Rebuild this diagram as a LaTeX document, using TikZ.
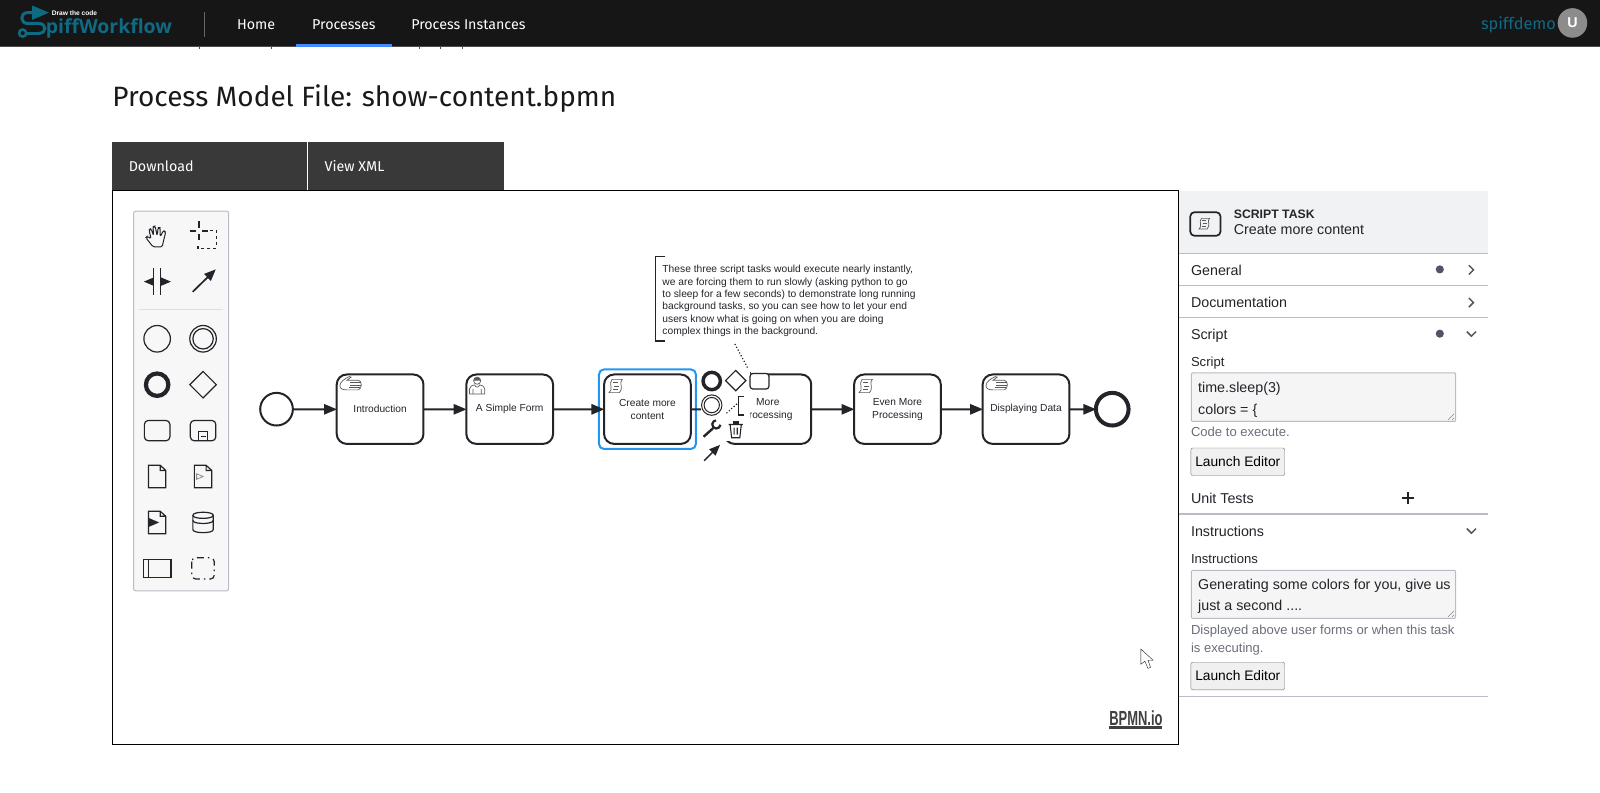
\documentclass[tikz,border=0pt]{standalone}
\usepackage{fontspec}
\setmainfont{Liberation Sans}
\newfontfamily\plexfont{Fira Sans}
\newfontfamily\logofont{Open Sans}
\usetikzlibrary{shapes,arrows}
\newcommand{\px}[1]{\fontsize{#1}{#1}\selectfont}
\definecolor{barbg}{HTML}{161616}
\definecolor{tabbg}{HTML}{393939}
\definecolor{spiffteal}{HTML}{0F6A84}
\definecolor{activeblue}{HTML}{4589FF}
\definecolor{selblue}{HTML}{2196F3}
\definecolor{panelline}{HTML}{B9BCC6}
\definecolor{panelhead}{HTML}{F1F2F4}
\definecolor{paneldot}{HTML}{505565}
\definecolor{paneltext}{HTML}{22242A}
\definecolor{hinttext}{HTML}{6A6E7A}
\definecolor{iconink}{HTML}{22242A}
\tikzset{%
	x=1pt, y=-1pt,
	menu/.style     = {text=white, inner sep=0, font=\plexfont\px{14}},
	tab/.style      = {text=white, anchor=west, inner sep=0, font=\plexfont\px{14}},
	task/.style     = {draw=iconink, line width=2pt, rounded corners=10pt, minimum width=85pt,
		minimum height=68pt, align=center, inner sep=0, outer sep=0, font=\fontsize{10}{13}\selectfont, text=iconink},
	startev/.style  = {draw=iconink, circle, line width=2pt, minimum size=32pt, inner sep=0, outer sep=0},
	endev/.style    = {draw=iconink, circle, line width=4pt, minimum size=32pt, inner sep=0, outer sep=0},
	flow/.style     = {draw=iconink, line width=2pt, -triangle 45}, % Sequence flow
	tool/.style     = {draw=iconink, line width=1.2pt},
	marker/.style   = {draw=black!65, line width=.7pt},
	lbl/.style      = {anchor=west, inner sep=0, text=paneltext, text height=14pt, text depth=3pt, font=\px{14}},
	small/.style    = {lbl, text height=12.5pt, text depth=2.5pt, font=\px{12.8}},
	hint/.style     = {small, text=hinttext},
	field/.style    = {draw=panelline, fill=black!4, rounded corners=1pt, line width=1pt},
	button/.style   = {draw=black!55, fill=black!6, rounded corners=2pt, minimum width=92pt, minimum height=27pt,
		inner sep=0, text=black, font=\px{13.5}},
	rule/.style     = {draw=panelline, line width=1pt},
	chevron/.style  = {draw=paneldot, line width=1.5pt},
	scripticon/.pic = {
		\draw[marker] (3,0) -- (13,0) .. controls (9,3) and (15,8) .. (10,13) -- (0,13) .. controls (5,10) and (-1,4) .. (3,0);
		\draw[marker] (4,3) -- (9,3) (5,6.5) -- (10,6.5) (4,10) -- (9,10);
	},
	handicon/.pic   = {
		\draw[marker] (0,9) .. controls (0,5) and (5,2) .. (9,0) -- (11,.5) -- (7,3.5) -- (18,3.5) .. controls (22,4) and (22,12) .. (18,13) -- (7,13) .. controls (3,13) and (0,12) .. (0,9);
		\draw[marker] (10,6) -- (21,6) (10,8.5) -- (21,8.5) (9,11) -- (20,11);
	},
	usericon/.pic   = {
		\draw[marker] (0,17) -- (0,12) .. controls (0,9) and (3,9) .. (5,8) (15,17) -- (15,12) .. controls (15,9) and (12,9) .. (10,8) (0,17) -- (15,17);
		\draw[marker] (3.5,12) -- (3.5,17) (11.5,12) -- (11.5,17) (5,8) .. controls (6,11) and (9,11) .. (10,8);
		\draw[marker] (7.5,4) circle (3.5);
		\fill[black!65] (4,4) arc (180:360:3.5) -- cycle;
	},
	docicon/.pic    = {
		\draw[tool] (-8.5,-11) -- (3,-11) -- (8.5,-6) -- (8.5,11) -- (-8.5,11) -- cycle (3,-11) -- (3,-6) -- (8.5,-6);
	}
}
\begin{document}
\begin{tikzpicture}[scale=1.0204, every node/.style={transform shape}]
			\useasboundingbox (0,0) rectangle (1568,777.1);
			% top bar
			\fill[barbg] (0,0) rectangle (1568,45.5);
			\draw[black!70] (0,45.5) -- (1568,45.5);
			\foreach \tickx in {195,266,411,431,453}
				\draw[black!70] (\tickx,46) -- (\tickx,48);
			\draw[spiffteal, line width=3pt, -triangle 45] (38,32.7) .. controls (46,32.7) and (46,23) .. (38,23) -- (27,23) .. controls (19.5,23) and (19.5,12.4) .. (27,12.4) -- (48,12.4);
			\draw[spiffteal, line width=3pt] (26,32.7) -- (38,32.7);
			\draw[spiffteal, line width=2.5pt] (22.2,32.4) circle (3.5);
			\node[anchor=west, inner sep=0, text=spiffteal, font=\logofont\bfseries\px{19}] (logo) at (44.8,28) {piffWorkflow};
			\node[anchor=west, inner sep=0, text=white, font=\bfseries\px{6.5}] (slogan) at (50.6,12.4) {Draw the code};
			\draw[black!60] (200.5,12) -- (200.5,36);
			\node[menu] (home) at (251,24) {Home};
			\node[menu] (procs) at (337,24) {Processes};
			\node[menu] (insts) at (459,24) {Process Instances};
			\fill[activeblue] (290,43) rectangle (384,46);
			\node[anchor=east, inner sep=0, text=spiffteal, font=\plexfont\px{16}] (user) at (1525,24) {spiffdemo};
			\node[circle, fill=black!45, minimum size=29pt, inner sep=0, text=white, font=\bfseries\px{14}] (avatar) at (1541,22.5) {U};

			\node[anchor=west, inner sep=0, text=black!90, font=\plexfont\px{27.4}] (title) at (110,97) {Process Model File: show-content.bpmn};

			% tabs
			\fill[tabbg] (110,139) rectangle (494,187);
			\draw[white] (301,139) -- (301,187);
			\node[tab] (download) at (126,163) {Download};
			\node[tab] (viewxml) at (318,163) {View XML};

			% canvas
			\draw[black, line width=1pt] (110.5,186.5) rectangle (1154.5,729.5);
			\draw[black!90, fill=white] (1118,636) -- (1118,651) -- (1122,648) -- (1125,655) -- (1127.5,654) -- (1125,647) -- (1130,647) -- cycle;
			\node[anchor=south west, inner sep=0, xscale=.635, text=black!75, font=\bfseries\px{20}] (bpmnio) at (1087,711) {BPMN.io};
			\fill[black!75] (1087,711) rectangle (1139,714.5);

			% palette
			\draw[draw=panelline, fill=black!3, line width=1pt, rounded corners=2pt] (131,207) rectangle (224,579);
			\draw[iconink, line width=1pt, rounded corners=1.5pt] (150,242) -- (143,233) -- (144.5,231.5) -- (148,234) -- (146,225) -- (148,224) -- (150.5,231) -- (150,222) -- (152,221.5) -- (154,231) -- (155,223) -- (157,223) -- (157,232) -- (160,226) -- (162.5,227) -- (160,237) -- (159,242) -- cycle;
			\draw[iconink, line width=2.2pt] (186,226) -- (192,226) (198,226) -- (204,226) (195,217) -- (195,223) (195,229) -- (195,235);
			\draw[iconink, line width=1.2pt, dash pattern=on 3pt off 3pt] (206,226) -- (212,226) -- (212,243.5) -- (194,243.5) -- (194,238);
			\draw[iconink, line width=1.2pt] (150.5,262.5) -- (150.5,289) (157.5,262.5) -- (157.5,289);
			\draw[iconink, line width=1.3pt, -triangle 45] (147.5,276) -- (141,276);
			\draw[iconink, line width=1.3pt, -triangle 45] (161,276) -- (167.5,276);
			\draw[iconink, line width=1.7pt, -triangle 45] (188.8,286) -- (211.4,264);
			\draw[black!12] (136,303) -- (219,303);
			\draw[tool] (154,332) circle (13);
			\draw[tool] (199,332) circle (13) (199,332) circle (10);
			\draw[iconink, line width=4.2pt] (154,377) circle (11);
			\draw[tool] (199,364) -- (212,377) -- (199,390) -- (186,377) -- cycle;
			\draw[tool, rounded corners=4pt] (141.5,412) rectangle (166.5,432);
			\draw[tool, rounded corners=4pt] (186.5,412) rectangle (211.5,432);
			\draw[tool] (194.5,422.5) rectangle (203.5,432) (196.5,427.5) -- (201.5,427.5);
			\foreach \docx/\docy in {154/467,199/467,154/512}
				\pic at (\docx,\docy) {docicon};
			\draw[black!45, line width=.8pt, -open triangle 45] (192,467) -- (200,467);
			\draw[iconink, line width=1.5pt, -triangle 45] (147,512) -- (156,512);
			\draw[tool] (189,505) .. controls (189,501) and (209,501) .. (209,505) -- (209,519) .. controls (209,523) and (189,523) .. (189,519) -- cycle;
			\draw[tool] (189,505) .. controls (189,509) and (209,509) .. (209,505) (189,510) .. controls (189,514) and (209,514) .. (209,510);
			\draw[tool] (140.5,548) rectangle (167.5,566) (145.5,548) -- (145.5,566);
			\draw[tool, rounded corners=4pt, dash pattern=on 7pt off 4pt on 1.5pt off 4pt] (188,546.5) rectangle (210,567.5);

			% process
			\node[startev] (start) at (271,401) {};
			\node[task] (intro) at (372.5,401) {Introduction};
			\node[task] (form) at (499.5,401) {A Simple Form};
			\node[task] (create) at (634.5,401) {Create more\\content};
			\node[task] (more) at (752.5,401) {More\\processing};
			\node[task] (even) at (879.5,401) {Even More\\Processing};
			\node[task] (show) at (1005.5,401) {Displaying Data};
			\node[endev] (stop) at (1090,401) {};
			\node[draw=selblue, line width=2pt, rounded corners=5pt, minimum width=95pt, minimum height=78pt, inner sep=0] (sel) at (634.5,401) {};

			\draw[flow] (start) -- (intro);
			\draw[flow] (intro) -- (form);
			\draw[flow] (form) -- (create);
			\draw[flow] (create) -- (more);
			\draw[flow] (more) -- (even);
			\draw[flow] (even) -- (show);
			\draw[flow] (show) -- (stop);

			\pic at ([shift={(3,2)}]intro.north west) {handicon};
			\pic at ([shift={(3,2)}]form.north west) {usericon};
			\pic at ([shift={(4.7,4.7)}]create.north west) {scripticon};
			\pic at ([shift={(4.7,4.7)}]even.north west) {scripticon};
			\pic at ([shift={(3,2)}]show.north west) {handicon};

			% annotation
			\node[anchor=west, align=left, inner sep=0, text=iconink, font=\fontsize{10.05}{12.2}\selectfont] (note) at (649,295) {These three script tasks would execute nearly instantly,\\we are forcing them to run slowly (asking python to go\\to sleep for a few seconds) to demonstrate long running\\background tasks, so you can see how to let your end\\users know what is going on when you are doing\\complex things in the background.};
			\draw[iconink, line width=1.5pt] (652,251.5) -- (642.5,251.5) -- (642.5,334) -- (652,334);
			\coordinate (notefoot) at (720,337);
			\coordinate (morehead) at (736,367);
			\draw[iconink, line width=1.2pt, dotted] (notefoot) -- (morehead);

			% context pad
			\fill[white] (687,362) rectangle (735,432);
			\fill[white] (687,432) rectangle (708,456);
			\draw[iconink, line width=3.5pt] (697.5,373.4) circle (8.5);
			\draw[iconink, line width=1pt] (697.5,397) circle (10) (697.5,397) circle (7.5);
			\draw[tool, fill=white] (721,363) -- (731,373) -- (721,383) -- (711,373) -- cycle;
			\draw[tool, fill=white, rounded corners=3pt] (735,366) rectangle (753.6,381.3);
			\draw[iconink, line width=1.2pt, dotted] (712,405) -- (723,395);
			\draw[iconink, line width=1.5pt] (729.5,388.5) -- (723.6,388.5) -- (723.6,406.5) -- (729.5,406.5);
			\draw[iconink, line width=2.4pt] (689.5,428) -- (699,419.5);
			\draw[iconink, line width=2.2pt] (706,416.3) arc (5:265:4);
			\draw[iconink, line width=1.5pt, -triangle 45] (690,451.5) -- (705.6,436);
			\draw[iconink, line width=1.1pt] (714,416) -- (728,416) (715.5,416) -- (717,429) -- (725,429) -- (726.5,416) (719.5,419) -- (719.5,426) (722.5,419) -- (722.5,426);
			\fill[iconink] (718,413) rectangle (724,416);

			% properties panel
			\fill[panelhead] (1155,187) rectangle (1458,248);
			\draw[iconink, line width=1.7pt, rounded corners=4pt, fill=panelhead] (1166.5,208) rectangle (1196,231);
			\pic[scale=.8] at (1175,214) {scripticon};
			\node[small, font=\bfseries\px{12}, text=black!85] (kind) at (1209,209) {SCRIPT TASK};
			\node[lbl] (kindname) at (1209,224) {Create more content};
			\draw[rule] (1155,248.5) -- (1458,248.5);
			\node[lbl] (general) at (1167,264) {General};
			\fill[paneldot] (1411,264) circle (4);
			\draw[chevron] (1439.5,260) -- (1444,264.5) -- (1439.5,269);
			\draw[rule] (1155,279.5) -- (1458,279.5);
			\node[lbl] (docu) at (1167,296) {Documentation};
			\draw[chevron] (1439.5,292) -- (1444,296.5) -- (1439.5,301);
			\draw[rule] (1155,311.5) -- (1458,311.5);
			\node[lbl] (scriptgroup) at (1167,327) {Script};
			\fill[paneldot] (1411,327) circle (4);
			\draw[chevron] (1437.5,325) -- (1442,329.5) -- (1446.5,325);
			\node[small] (scriptlbl) at (1167,354) {Script};
			\draw[field] (1167.5,365.5) rectangle (1426.5,413);
			\node[lbl] (code1) at (1174,379.5) {time.sleep(3)};
			\node[lbl] (code2) at (1174,400.5) {colors = \{};
			\draw[black!60] (1419,411.5) -- (1425,405.5) (1423,411.5) -- (1425,409.5);
			\node[hint] (codehint) at (1167,423) {Code to execute.};
			\node[button] (launcha) at (1213,452.5) {Launch Editor};
			\node[lbl] (unit) at (1167,488) {Unit Tests};
			\draw[iconink, line width=1.5pt] (1374,488) -- (1386,488) (1380,482) -- (1380,494);
			\draw[panelline, line width=2pt] (1155,504) -- (1458,504);
			\node[lbl] (instrgroup) at (1167,520) {Instructions};
			\draw[chevron] (1437.5,518) -- (1442,522.5) -- (1446.5,518);
			\node[small] (instrlbl) at (1167,547) {Instructions};
			\draw[field] (1167.5,559) rectangle (1426.5,606);
			\node[lbl] (instr1) at (1174,572) {Generating some colors for you, give us};
			\node[lbl] (instr2) at (1174,593) {just a second ....};
			\draw[black!60] (1419,604.5) -- (1425,598.5) (1423,604.5) -- (1425,602.5);
			\node[hint] (hinta) at (1167,617) {Displayed above user forms or when this task};
			\node[hint] (hintb) at (1167,634) {is executing.};
			\node[button] (launchb) at (1213,662.5) {Launch Editor};
			\draw[rule] (1155,682.5) -- (1458,682.5);
		\end{tikzpicture}
\end{document}
